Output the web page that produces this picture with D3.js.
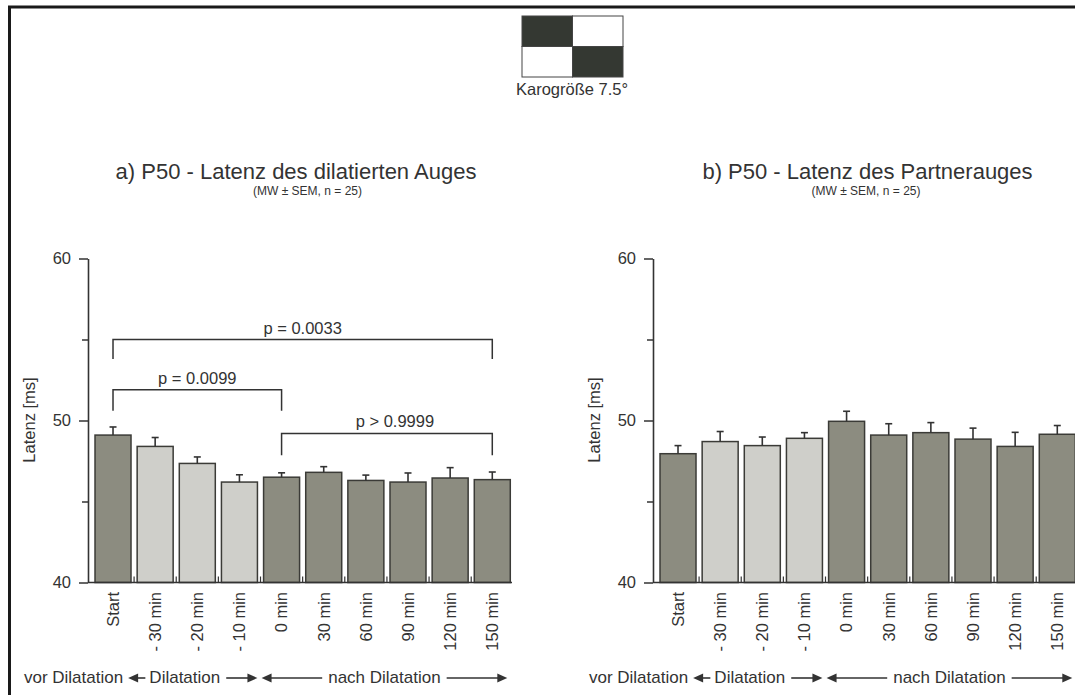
<!DOCTYPE html>
<html>
<head>
<meta charset="utf-8">
<script src="https://cdn.jsdelivr.net/npm/d3@7"></script>
<style>
  html, body { margin: 0; padding: 0; background: #fff; }
  svg { display: block; font-family: "Liberation Sans", Arial, sans-serif; }
</style>
</head>
<body>
<svg id="chart" width="1075" height="695"></svg>
<script>
'use strict';
(function() {
  // Data
  var categories = ['Start', '- 30 min', '- 20 min', '- 10 min', '0 min', '30 min', '60 min', '90 min', '120 min', '150 min'];
  var phases = ['vor', 'dil', 'dil', 'dil', 'nach', 'nach', 'nach', 'nach', 'nach', 'nach'];
  var dilatedMean = [49.1, 48.4, 47.35, 46.2, 46.5, 46.8, 46.3, 46.2, 46.45, 46.35];
  var dilatedSem = [0.5, 0.55, 0.4, 0.45, 0.27, 0.35, 0.33, 0.56, 0.64, 0.47];
  var partnerMean = [47.95, 48.7, 48.45, 48.9, 49.95, 49.1, 49.25, 48.85, 48.4, 49.15];
  var partnerSem = [0.5, 0.62, 0.53, 0.35, 0.62, 0.7, 0.62, 0.68, 0.87, 0.54];
  var yTicks = [40, 45, 50, 55, 60];

  // Significance brackets (left panel only)
  var sigFrom = ['Start', 'Start', '0 min'];
  var sigTo = ['150 min', '0 min', '150 min'];
  var sigLevel = [55.0, 51.9, 49.2];
  var sigDrop = [53.8, 50.6, 47.85];
  var sigText = ['p = 0.0033', 'p = 0.0099', 'p > 0.9999'];

  // Colors
  var INK = '#333';
  var DARK = '#8c8c80';
  var LIGHT = '#cfcfca';
  var BAR_STROKE = '#3b3b37';

  var svg = d3.select('#chart');

  // Frame (only top and left visible)
  svg.append('path')
    .attr('d', 'M9.5,695V7H1075')
    .attr('fill', 'none')
    .attr('stroke', '#1a1a1a')
    .attr('stroke-width', 3);

  // Checkerboard stimulus
  var cx = d3.scaleBand().domain([0, 1]).range([522, 623]);
  var cy = d3.scaleBand().domain([0, 1]).range([16, 77]);
  var cells = [[0, 0], [1, 0], [0, 1], [1, 1]];
  svg.append('g').selectAll('rect')
    .data(cells)
    .join('rect')
    .attr('x', function(d) { return cx(d[0]); })
    .attr('y', function(d) { return cy(d[1]); })
    .attr('width', cx.bandwidth())
    .attr('height', cy.bandwidth())
    .attr('fill', function(d) { return d[0] === d[1] ? '#343832' : '#fff'; })
    .attr('stroke', '#444')
    .attr('stroke-width', 1);
  svg.append('text')
    .attr('x', 572).attr('y', 95)
    .attr('text-anchor', 'middle')
    .attr('font-size', 16.5)
    .attr('fill', INK)
    .text('Karogröße 7.5°');

  // Shared y scale
  var y = d3.scaleLinear().domain([40, 60]).range([582.5, 258.5]);

  var arrowHead = function(g, tipX, yy, dir) {
    var len = 10, half = 4.5;
    g.append('path')
      .attr('d', 'M' + tipX + ',' + yy + 'L' + (tipX - dir * len) + ',' + (yy - half) + 'L' + (tipX - dir * len) + ',' + (yy + half) + 'Z')
      .attr('fill', INK);
  };
  var shaft = function(g, xa, xb, yy) {
    g.append('line')
      .attr('x1', xa).attr('x2', xb).attr('y1', yy).attr('y2', yy)
      .attr('stroke', INK).attr('stroke-width', 1.6);
  };

  var drawPanel = function(opt) {
    var x0 = opt.x0;
    var g = svg.append('g');

    var x = d3.scaleBand()
      .domain(categories)
      .range([x0 + 2.8, x0 + 426.5])
      .paddingInner(0.1457)
      .paddingOuter(0.1);
    var bw = x.bandwidth();
    var gap = x.step() - bw;

    // Titles
    g.append('text')
      .attr('x', opt.titleX).attr('y', 179)
      .attr('text-anchor', 'middle')
      .attr('font-size', 22)
      .attr('fill', INK)
      .text(opt.title);
    g.append('text')
      .attr('x', opt.subX).attr('y', 195)
      .attr('text-anchor', 'middle')
      .attr('font-size', 12)
      .attr('fill', INK)
      .text('(MW ± SEM, n = 25)');

    // Bars
    g.append('g').selectAll('rect')
      .data(opt.means)
      .join('rect')
      .attr('x', function(d, i) { return x(categories[i]); })
      .attr('y', function(d) { return y(d); })
      .attr('width', bw)
      .attr('height', function(d) { return y(40) - y(d); })
      .attr('fill', function(d, i) { return phases[i] === 'dil' ? LIGHT : DARK; })
      .attr('stroke', BAR_STROKE)
      .attr('stroke-width', 1.5);

    // Error bars (upper SEM only)
    var eg = g.append('g').attr('stroke', INK).attr('stroke-width', 1.6);
    opt.means.forEach(function(m, i) {
      var xc = x(categories[i]) + bw / 2;
      var top = y(m + opt.sems[i]);
      eg.append('line').attr('x1', xc).attr('x2', xc).attr('y1', y(m)).attr('y2', top);
      eg.append('line').attr('x1', xc - 3.5).attr('x2', xc + 3.5).attr('y1', top).attr('y2', top);
    });

    // Y axis
    var yAxis = d3.axisLeft(y)
      .tickValues(yTicks)
      .tickSize(9)
      .tickSizeOuter(0)
      .tickPadding(8)
      .tickFormat(function(d) { return d % 10 === 0 ? d : ''; });
    var ya = g.append('g')
      .attr('transform', 'translate(' + x0 + ',0)')
      .call(yAxis);
    ya.select('.domain').attr('stroke', INK).attr('stroke-width', 1.6);
    ya.selectAll('.tick line')
      .attr('stroke', INK).attr('stroke-width', 1.5)
      .attr('x2', function(d) { return d % 10 === 0 ? -9 : -6; });
    ya.selectAll('.tick text')
      .attr('font-size', 16.5).attr('fill', INK)
      .attr('font-family', '"Liberation Sans", Arial, sans-serif');

    g.append('text')
      .attr('transform', 'translate(' + (x0 - 58.5) + ',420) rotate(-90)')
      .attr('text-anchor', 'middle')
      .attr('dy', '0.35em')
      .attr('font-size', 16.5)
      .attr('fill', INK)
      .text('Latenz [ms]');

    // X axis
    var xAxis = d3.axisBottom(x).tickSize(0).tickSizeOuter(0);
    var xa = g.append('g')
      .attr('transform', 'translate(0,' + y(40) + ')')
      .call(xAxis);
    xa.select('.domain').remove();
    xa.selectAll('.tick text')
      .attr('transform', 'rotate(-90)')
      .attr('text-anchor', 'end')
      .attr('x', -9.5)
      .attr('y', 0)
      .attr('dy', '0.35em')
      .attr('font-size', 16.5)
      .attr('fill', INK)
      .attr('font-family', '"Liberation Sans", Arial, sans-serif');
    g.append('line')
      .attr('x1', x0).attr('x2', x0 + 424)
      .attr('y1', y(40)).attr('y2', y(40))
      .attr('stroke', INK).attr('stroke-width', 1.6);
    g.append('g').selectAll('line')
      .data(categories.slice(1))
      .join('line')
      .attr('x1', function(d) { return x(d) - gap / 2; })
      .attr('x2', function(d) { return x(d) - gap / 2; })
      .attr('y1', y(40)).attr('y2', y(40) - 6)
      .attr('stroke', INK).attr('stroke-width', 1.2);

    // Significance brackets
    if (opt.sig) {
      var sg = g.append('g');
      sigFrom.forEach(function(f, i) {
        var xa1 = x(f) + bw / 2;
        var xb1 = x(sigTo[i]) + bw / 2;
        var yl = y(sigLevel[i]);
        var yd = y(sigDrop[i]);
        sg.append('path')
          .attr('d', 'M' + xa1 + ',' + yd + 'V' + yl + 'H' + xb1 + 'V' + yd)
          .attr('fill', 'none')
          .attr('stroke', INK)
          .attr('stroke-width', 1.5);
        sg.append('text')
          .attr('x', (xa1 + xb1) / 2 + (i === 2 ? 8 : 0))
          .attr('y', yl - 6)
          .attr('text-anchor', 'middle')
          .attr('font-size', 16.5)
          .attr('fill', INK)
          .text(sigText[i]);
      });
    }

    // Phase annotation below the axis
    var ay = 678;
    var ag = g.append('g');
    var dilL = x('- 30 min') - 9;
    var dilR = x('- 10 min') + bw;
    var nachL = x('0 min') - 2;
    var nachR = x('150 min') + bw - 3;
    var dilMid = (dilL + dilR) / 2 - 8;

    ag.append('text')
      .attr('x', dilL - 5).attr('y', 683)
      .attr('text-anchor', 'end')
      .attr('font-size', 17).attr('fill', INK)
      .text('vor Dilatation');

    var dilText = ag.append('text')
      .attr('x', dilMid).attr('y', 683)
      .attr('text-anchor', 'middle')
      .attr('font-size', 17).attr('fill', INK)
      .text('Dilatation');
    var dw = dilText.node().getComputedTextLength();
    arrowHead(ag, dilL, ay, -1);
    shaft(ag, dilL + 8, dilMid - dw / 2 - 4, ay);
    shaft(ag, dilMid + dw / 2 + 6, dilR - 8, ay);
    arrowHead(ag, dilR, ay, 1);

    var nachText = ag.append('text')
      .attr('x', (nachL + nachR) / 2).attr('y', 683)
      .attr('text-anchor', 'middle')
      .attr('font-size', 17).attr('fill', INK)
      .text('nach Dilatation');
    var nw = nachText.node().getComputedTextLength();
    arrowHead(ag, nachL, ay, -1);
    shaft(ag, nachL + 8, (nachL + nachR) / 2 - nw / 2 - 6, ay);
    shaft(ag, (nachL + nachR) / 2 + nw / 2 + 6, nachR - 8, ay);
    arrowHead(ag, nachR, ay, 1);
  };

  drawPanel({
    x0: 88,
    means: dilatedMean,
    sems: dilatedSem,
    title: 'a) P50 - Latenz des dilatierten Auges',
    titleX: 296,
    subX: 307.5,
    sig: true
  });

  drawPanel({
    x0: 653,
    means: partnerMean,
    sems: partnerSem,
    title: 'b) P50 - Latenz des Partnerauges',
    titleX: 867.5,
    subX: 866,
    sig: false
  });
})();
</script>
</body>
</html>
